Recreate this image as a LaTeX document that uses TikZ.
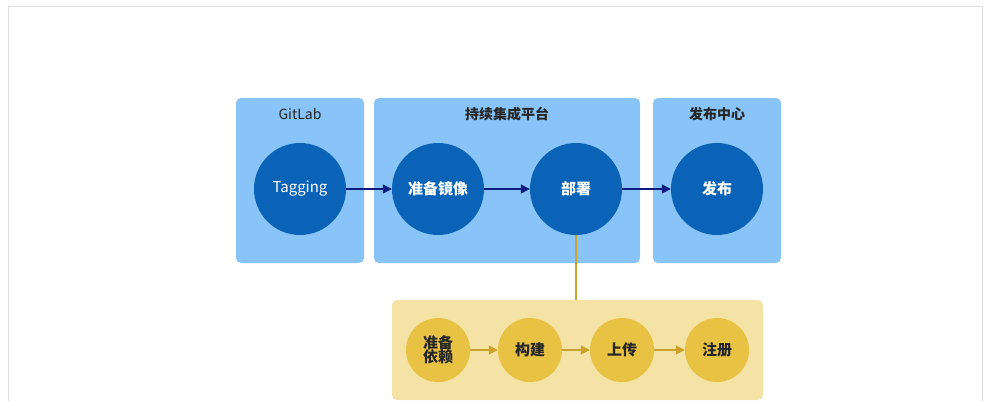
\documentclass[tikz,border=0pt]{standalone}
\usepackage{fontspec}
\setmainfont{Noto Sans CJK SC}
\usetikzlibrary{arrows.meta}
\definecolor{bbox}{HTML}{88C4F7}
\definecolor{bcirc}{HTML}{0B63B8}
\definecolor{navy}{HTML}{0D1B80}
\definecolor{ybox}{HTML}{F5E3A5}
\definecolor{ycirc}{HTML}{E8C243}
\definecolor{yline}{HTML}{C9A32A}
\tikzset{
 grp/.style={fill=#1,rounded corners=5pt,draw=none},
 bc/.style={circle,fill=bcirc,minimum size=92pt,inner sep=0pt,text=white,font=\fontsize{15}{17}\selectfont\bfseries},
 yc/.style={circle,fill=ycirc,minimum size=64pt,inner sep=0pt,text=black!85,font=\fontsize{15}{17}\selectfont\bfseries,align=center},
 title/.style={font=\fontsize{14}{16}\selectfont,text=black!85},
 barr/.style={draw=navy,line width=1.2pt,-{Triangle[length=9pt,width=9pt]}},
 yarr/.style={draw=yline,line width=1.2pt,-{Triangle[length=9pt,width=9pt]}},
}
\begin{document}
\begin{tikzpicture}[x=1pt,y=-1pt]
\useasboundingbox (0,0) rectangle (988,400);
\fill[white] (0,0) rectangle (988,400);
\begin{scope}
\clip (0,0) rectangle (988,400);
\draw[black!12] (8,6) rectangle (982,420);
\fill[grp=ybox] (392,300) rectangle (763,400);
\end{scope}
\fill[grp=bbox] (236,98) rectangle (364,263);
\fill[grp=bbox] (374,98) rectangle (640,263);
\fill[grp=bbox] (653,98) rectangle (781,263);
\node[title] (t1) at (300,114) {GitLab};
\node[title,font=\fontsize{14}{16}\selectfont\bfseries] (t2) at (507,114) {持续集成平台};
\node[title,font=\fontsize{14}{16}\selectfont\bfseries] (t3) at (717,114) {发布中心};
\node[bc,font=\fontsize{15}{17}\selectfont] (tag) at (300,189) {Tagging};
\node[bc] (prep) at (438,189) {准备镜像};
\node[bc] (dep) at (576,189) {部署};
\node[bc] (pub) at (717,189) {发布};
\draw[barr] (tag) -- (prep);
\draw[barr] (prep) -- (dep);
\draw[barr] (dep) -- (pub);
\coordinate (ytop) at (576,300);
\draw[yline,line width=1.2pt] (dep) -- (ytop);
\node[yc] (y1) at (438,350) {准备\\[-3pt]依赖};
\node[yc] (y2) at (530,350) {构建};
\node[yc] (y3) at (622,350) {上传};
\node[yc] (y4) at (717,350) {注册};
\draw[yarr] (y1) -- (y2);
\draw[yarr] (y2) -- (y3);
\draw[yarr] (y3) -- (y4);
\end{tikzpicture}
\end{document}
